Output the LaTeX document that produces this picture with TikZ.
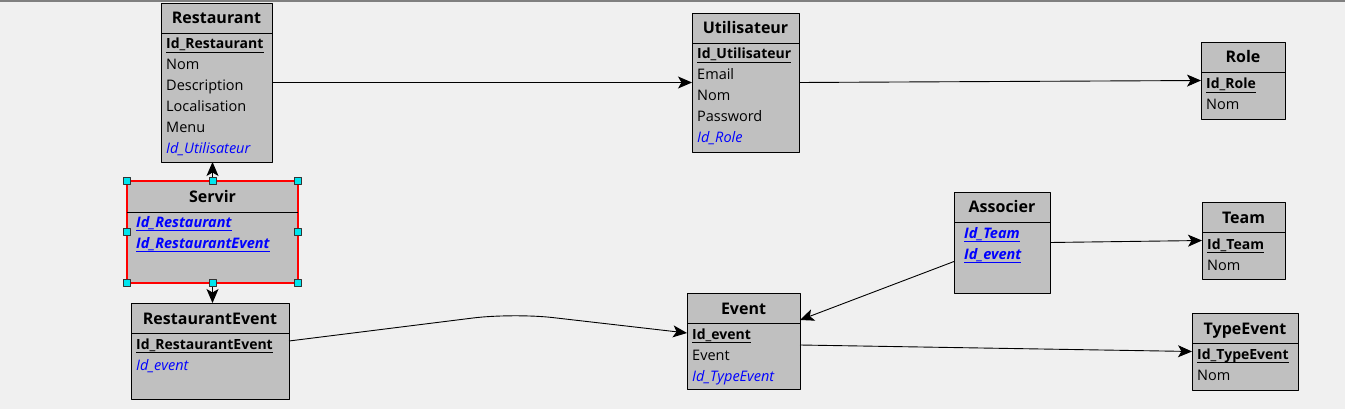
\documentclass[tikz,border=0pt]{standalone}
\usepackage{fontspec}
\setmainfont{Open Sans}
\usepackage{xcolor}
\usetikzlibrary{calc, positioning}
\usetikzlibrary{arrows.meta}

\definecolor{boxgray}{HTML}{C0C0C0}
\definecolor{canvas}{HTML}{F0F0F0}
\definecolor{fkblue}{HTML}{0000FF}
\definecolor{handlecyan}{HTML}{00E5EE}

\begin{document}
\begin{tikzpicture}[x=1pt, y=-1pt, line join=round,
  entity/.style={draw=black, line width=0.9pt, fill=boxgray, rectangle, inner sep=0pt, outer sep=0pt, anchor=north west},
  headline/.style={line width=0.9pt},
  entitytitle/.style={font=\fontsize{16}{18}\selectfont\bfseries, anchor=base, inner sep=0pt},
  attr/.style={font=\fontsize{14.5}{16}\selectfont, anchor=base west, inner sep=0pt},
  keyattr/.style={attr, font=\fontsize{14}{16}\selectfont\bfseries},
  fkattr/.style={attr, font=\fontsize{14.5}{16}\selectfont\itshape, text=fkblue},
  assockey/.style={attr, font=\fontsize{14.5}{16}\selectfont\bfseries\itshape, text=fkblue},
  keyline/.style={line width=0.9pt},
  link/.style={line width=0.9pt, -{Stealth[length=14pt, width=12pt, inset=3.5pt]}},
  handle/.style={draw=black!80, fill=handlecyan, line width=0.8pt, minimum size=7pt, inner sep=0pt}]

% Canvas and the thin bar along the top
\fill[canvas] (0,0) rectangle (1345,409);
\useasboundingbox (0,0) rectangle (1345,409);
\fill[black!50] (0,0) rectangle (1345,2);

% Restaurant
\node[entity, minimum width=111pt, minimum height=159pt] (restaurant) at (161,3) {};
\draw[headline] ($(restaurant.north west)+(0,30)$) -- ($(restaurant.north east)+(0,30)$);
\node[entitytitle] (restaurant-title) at ($(restaurant.north)+(0,21)$) {Restaurant};
\node[keyattr] (restaurant-id) at (166,49) {Id\_Restaurant};
\node[attr] (restaurant-nom) at (166,70) {Nom};
\node[attr] (restaurant-desc) at (166,91) {Description};
\node[attr] (restaurant-loc) at (166,112) {Localisation};
\node[attr] (restaurant-menu) at (166,133) {Menu};
\node[fkattr] (restaurant-user) at (166,154) {Id\_Utilisateur};
\draw[keyline] ($(restaurant-id.base west)+(0,3)$) -- ($(restaurant-id.base east)+(0,3)$);

% Utilisateur
\node[entity, minimum width=107pt, minimum height=139pt] (utilisateur) at (692,13) {};
\draw[headline] ($(utilisateur.north west)+(0,30)$) -- ($(utilisateur.north east)+(0,30)$);
\node[entitytitle] (utilisateur-title) at ($(utilisateur.north)+(0,21)$) {Utilisateur};
\node[keyattr] (utilisateur-id) at (697,59) {Id\_Utilisateur};
\node[attr] (utilisateur-email) at (697,80) {Email};
\node[attr] (utilisateur-nom) at (697,101) {Nom};
\node[attr] (utilisateur-pass) at (697,122) {Password};
\node[fkattr] (utilisateur-role) at (697,143) {Id\_Role};
\draw[keyline] ($(utilisateur-id.base west)+(0,3)$) -- ($(utilisateur-id.base east)+(0,3)$);

% Role
\node[entity, minimum width=84pt, minimum height=77pt] (role) at (1201,42) {};
\draw[headline] ($(role.north west)+(0,30)$) -- ($(role.north east)+(0,30)$);
\node[entitytitle] (role-title) at ($(role.north)+(0,21)$) {Role};
\node[keyattr] (role-id) at (1206,89) {Id\_Role};
\node[attr] (role-nom) at (1206,110) {Nom};
\draw[keyline] ($(role-id.base west)+(0,3)$) -- ($(role-id.base east)+(0,3)$);

% Servir (selected)
\node[entity, draw=red, line width=2.2pt, minimum width=171pt, minimum height=102pt] (servir) at (127,181) {};
\draw[headline] ($(servir.north west)+(0,31)$) -- ($(servir.north east)+(0,31)$);
\node[entitytitle] (servir-title) at ($(servir.north)+(0,22)$) {Servir};
\node[assockey] (servir-rest) at (136,227) {Id\_Restaurant};
\node[assockey] (servir-restevent) at (136,248) {Id\_RestaurantEvent};
\draw[keyline, fkblue] ($(servir-rest.base west)+(0,3)$) -- ($(servir-rest.base east)+(0,3)$);
\draw[keyline, fkblue] ($(servir-restevent.base west)+(0,3)$) -- ($(servir-restevent.base east)+(0,3)$);

% Associer
\node[entity, minimum width=96pt, minimum height=101pt] (associer) at (954,192) {};
\draw[headline] ($(associer.north west)+(0,30)$) -- ($(associer.north east)+(0,30)$);
\node[entitytitle] (associer-title) at ($(associer.north)+(0,21)$) {Associer};
\node[assockey] (associer-team) at (964,238) {Id\_Team};
\node[assockey] (associer-event) at (964,259) {Id\_event};
\draw[keyline, fkblue] ($(associer-team.base west)+(0,3)$) -- ($(associer-team.base east)+(0,3)$);
\draw[keyline, fkblue] ($(associer-event.base west)+(0,3)$) -- ($(associer-event.base east)+(0,3)$);

% Team
\node[entity, minimum width=83pt, minimum height=77pt] (team) at (1202,202) {};
\draw[headline] ($(team.north west)+(0,30)$) -- ($(team.north east)+(0,30)$);
\node[entitytitle] (team-title) at ($(team.north)+(0,21)$) {Team};
\node[keyattr] (team-id) at (1207,249) {Id\_Team};
\node[attr] (team-nom) at (1207,270) {Nom};
\draw[keyline] ($(team-id.base west)+(0,3)$) -- ($(team-id.base east)+(0,3)$);

% RestaurantEvent
\node[entity, minimum width=158pt, minimum height=96pt] (restaurantevent) at (131,303) {};
\draw[headline] ($(restaurantevent.north west)+(0,30)$) -- ($(restaurantevent.north east)+(0,30)$);
\node[entitytitle] (restaurantevent-title) at ($(restaurantevent.north)+(0,21)$) {RestaurantEvent};
\node[keyattr] (restaurantevent-id) at (136,349) {Id\_RestaurantEvent};
\node[fkattr] (restaurantevent-event) at (136,370) {Id\_event};
\draw[keyline] ($(restaurantevent-id.base west)+(0,3)$) -- ($(restaurantevent-id.base east)+(0,3)$);

% Event
\node[entity, minimum width=113pt, minimum height=96pt] (event) at (687,293) {};
\draw[headline] ($(event.north west)+(0,30)$) -- ($(event.north east)+(0,30)$);
\node[entitytitle] (event-title) at ($(event.north)+(0,21)$) {Event};
\node[keyattr] (event-id) at (692,339) {Id\_event};
\node[attr] (event-name) at (692,360) {Event};
\node[fkattr] (event-type) at (692,381) {Id\_TypeEvent};
\draw[keyline] ($(event-id.base west)+(0,3)$) -- ($(event-id.base east)+(0,3)$);

% TypeEvent
\node[entity, minimum width=106pt, minimum height=77pt] (typeevent) at (1192,313) {};
\draw[headline] ($(typeevent.north west)+(0,30)$) -- ($(typeevent.north east)+(0,30)$);
\node[entitytitle] (typeevent-title) at ($(typeevent.north)+(0,21)$) {TypeEvent};
\node[keyattr] (typeevent-id) at (1197,359) {Id\_TypeEvent};
\node[attr] (typeevent-nom) at (1197,380) {Nom};
\draw[keyline] ($(typeevent-id.base west)+(0,3)$) -- ($(typeevent-id.base east)+(0,3)$);

% Links
\draw[link] (restaurant.east) -- (utilisateur.west);
\draw[link] (utilisateur.east) -- (role.west);
\draw[link] (servir.north) -- (servir.north |- restaurant.south);
\draw[link] (servir.south) -- (servir.south |- restaurantevent.north);
\coordinate (bend) at (513,313);
\draw[link, rounded corners=40pt] ([yshift=10pt]restaurantevent.east) -- (bend) -- ([yshift=8pt]event.west);
\draw[link] ([yshift=-19pt]associer.west) -- ([yshift=21pt]event.east);
\draw[link] (associer.east) -- (team.west);
\draw[link] ([yshift=-4pt]event.east) -- (typeevent.west);

% Selection handles round Servir
\foreach \a/\n in {north west/nw, north/n, north east/ne, east/e, south east/se, south/s, south west/sw, west/w}
  \node[handle] (servir-h\n) at (servir.\a) {};
\end{tikzpicture}
\end{document}
